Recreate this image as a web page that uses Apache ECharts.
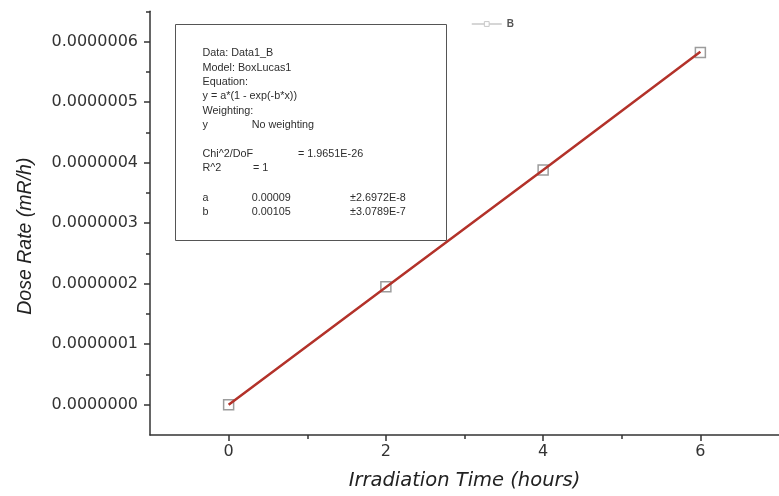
<!DOCTYPE html>
<html>
<head>
<meta charset="utf-8">
<script src="https://cdn.jsdelivr.net/npm/echarts@6/dist/echarts.min.js"></script>
<style>
html,body{margin:0;padding:0;background:#fff;}
#c{width:779px;height:496px;}
</style>
</head>
<body>
<div id="c"></div>
<script>
// ---- data ----
const timeHours = [0, 2, 4, 6];
const doseRate = [0, 1.95e-7, 3.88e-7, 5.82e-7];
const fitTime = [0, 2, 4, 6];
const fitDose = [0, 1.94e-7, 3.88e-7, 5.83e-7];
const xMajorTicks = [0, 2, 4, 6];
const xMinorTicks = [1, 3, 5];
const yMajorTicks = [0, 1e-7, 2e-7, 3e-7, 4e-7, 5e-7, 6e-7];
const yMinorTicks = [0.5e-7, 1.5e-7, 2.5e-7, 3.5e-7, 4.5e-7, 5.5e-7, 6.5e-7];
const fitReport = [
  ['Data: Data1_B'],
  ['Model: BoxLucas1'],
  ['Equation:'],
  ['y = a*(1 - exp(-b*x))'],
  ['Weighting:'],
  ['y', 'No weighting'],
  [],
  ['Chi^2/DoF', '= 1.9651E-26'],
  ['R^2', '= 1'],
  [],
  ['a', '0.00009', '±2.6972E-8'],
  ['b', '0.00105', '±3.0789E-7']
];

const chart = echarts.init(document.getElementById('c'), null, {renderer: 'canvas'});
const axisColor = '#333';
const pairs = (xs, ys) => xs.map((x, i) => [x, ys[i]]);

// text box graphic
const lineY = [53, 67.7, 82, 96.5, 110.7, 125, 139.5, 154, 168, 183, 198, 212];
const colX = {
  default: [202.5, 251.7, 350],
  chi: [202.5, 298],
  r2: [202.5, 253]
};
const boxChildren = [{
  type: 'rect',
  shape: {x: 175.5, y: 24.5, width: 271, height: 216},
  style: {fill: '#fff', stroke: '#555', lineWidth: 1}
}];
fitReport.forEach((row, i) => {
  let xs = colX.default;
  if (row[0] === 'Chi^2/DoF') xs = colX.chi;
  if (row[0] === 'R^2') xs = colX.r2;
  row.forEach((t, j) => {
    boxChildren.push({
      type: 'text',
      x: xs[j], y: lineY[i],
      style: {
        text: t, fill: '#2e2e2e',
        font: '10.8px "Liberation Sans", Arial, sans-serif',
        textVerticalAlign: 'middle', verticalAlign: 'middle'
      }
    });
  });
});

const option = {
  animation: false,
  backgroundColor: '#fff',
  grid: {left: 150, right: -5, top: 11.3, bottom: 58, containLabel: false},
  legend: {
    data: ['B'],
    left: 466, top: 14,
    itemWidth: 30, itemHeight: 6,
    itemGap: 4,
    textStyle: {fontSize: 10, fontWeight: 'bold', color: '#555', fontFamily: '"Liberation Sans", Arial, sans-serif'},
    lineStyle: {width: 1.5, color: '#c8c8c8', opacity: 1},
    itemStyle: {color: '#fff', borderColor: '#c8c8c8', borderWidth: 1}
  },
  xAxis: [{
    type: 'value', min: -1, max: 7,
    name: 'Irradiation Time (hours)',
    nameLocation: 'middle', nameGap: 36,
    nameTextStyle: {fontSize: 19.5, fontStyle: 'italic', color: '#222', fontFamily: '"DejaVu Sans", sans-serif'},
    axisLine: {show: true, onZero: false, lineStyle: {color: axisColor, width: 1.5}},
    axisTick: {show: true, inside: false, length: 6, customValues: xMajorTicks, lineStyle: {color: axisColor, width: 1.5}},
    axisLabel: {show: true, customValues: xMajorTicks, margin: 9, fontSize: 16, color: '#333', fontFamily: '"DejaVu Sans", sans-serif'},
    splitLine: {show: false}
  }, {
    type: 'value', min: -1, max: 7, position: 'bottom',
    axisLine: {show: false, onZero: false},
    axisTick: {show: true, inside: false, length: 4, customValues: xMinorTicks, lineStyle: {color: axisColor, width: 1.5}},
    axisLabel: {show: false},
    splitLine: {show: false}
  }],
  yAxis: [{
    type: 'value', min: -0.5e-7, max: 6.5e-7,
    name: 'Dose Rate (mR/h)',
    nameLocation: 'middle', nameGap: 114, nameRotate: 90,
    nameTextStyle: {fontSize: 19.5, fontStyle: 'italic', color: '#222', fontFamily: '"Liberation Sans", Arial, sans-serif', padding: [0, 26, 0, 0]},
    axisLine: {show: true, onZero: false, lineStyle: {color: axisColor, width: 1.5}},
    axisTick: {show: true, inside: false, length: 6, customValues: yMajorTicks, lineStyle: {color: axisColor, width: 1.5}},
    axisLabel: {show: true, customValues: yMajorTicks, margin: 12, fontSize: 16, color: '#333', fontFamily: '"DejaVu Sans", sans-serif',
      formatter: v => Number(v).toFixed(7)},
    splitLine: {show: false}
  }, {
    type: 'value', min: -0.5e-7, max: 6.5e-7, position: 'left',
    axisLine: {show: false, onZero: false},
    axisTick: {show: true, inside: false, length: 4, customValues: yMinorTicks, lineStyle: {color: axisColor, width: 1.5}},
    axisLabel: {show: false},
    splitLine: {show: false}
  }],
  series: [{
    name: 'B', type: 'line',
    xAxisIndex: 0, yAxisIndex: 0,
    data: pairs(timeHours, doseRate),
    symbol: 'rect', symbolSize: 10,
    showSymbol: true,
    lineStyle: {width: 0, opacity: 0},
    itemStyle: {color: 'rgba(255,255,255,0)', borderColor: '#9c9c9c', borderWidth: 1.5},
    z: 2
  }, {
    name: 'Fit', type: 'line',
    xAxisIndex: 0, yAxisIndex: 0,
    data: pairs(fitTime, fitDose),
    symbol: 'none',
    lineStyle: {color: '#b3322a', width: 2.5},
    silent: true,
    z: 3
  }],
  graphic: [{type: 'group', children: boxChildren}]
};
chart.setOption(option);
</script>
</body>
</html>
